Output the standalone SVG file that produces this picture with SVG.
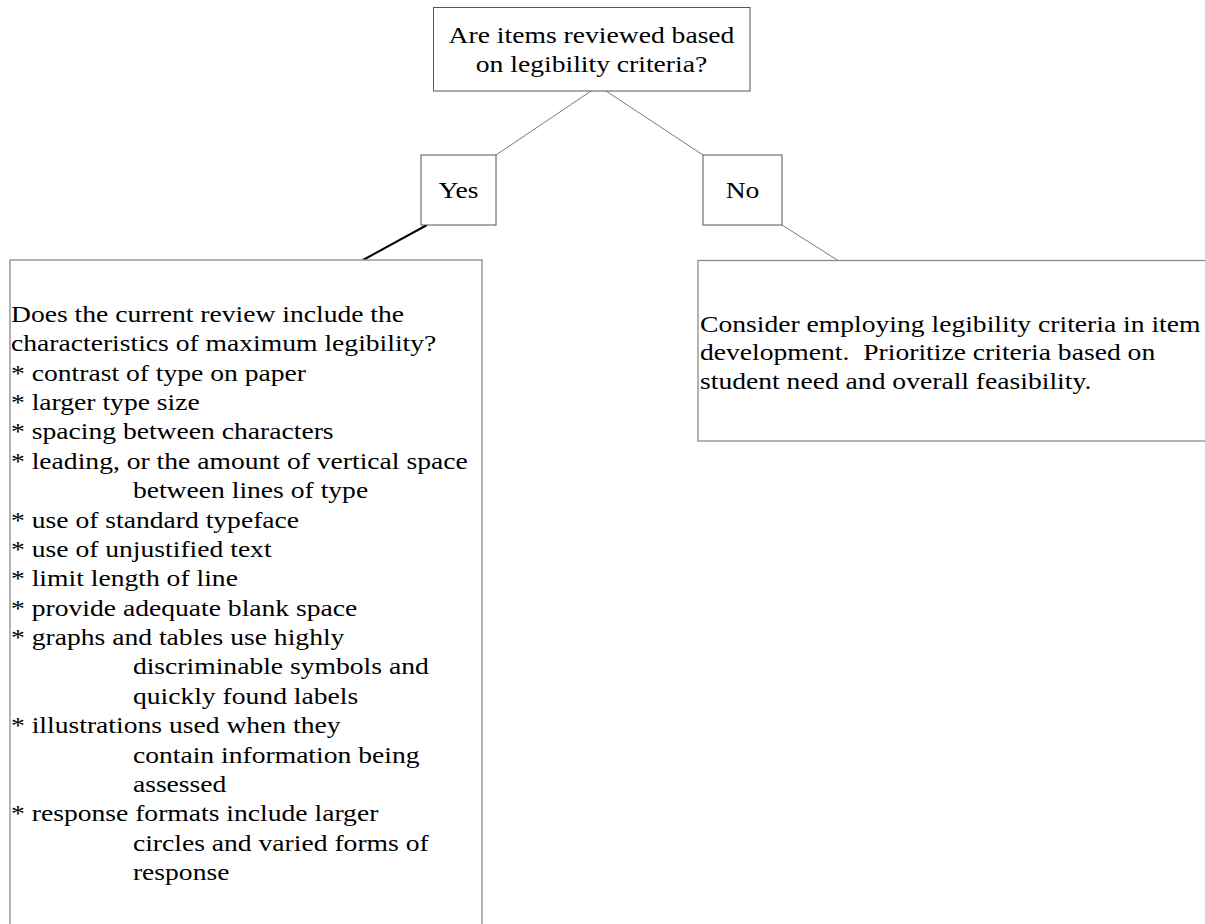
<svg xmlns="http://www.w3.org/2000/svg" width="1205" height="924" viewBox="0 0 1205 924">
<style>
  .box { fill: #ffffff; stroke: #555555; stroke-width: 1; }
  .bigbox { fill: #ffffff; stroke: #8a8a8a; stroke-width: 1.3; }
  .conn { fill: none; stroke: #555555; stroke-width: 0.8; }
  .connb { fill: none; stroke: #000000; stroke-width: 2; }
  .t { font-size: 24px; fill: #000000; }
  .c { text-anchor: middle; }
</style>
<rect x="0" y="0" width="1205" height="924" fill="#ffffff"/>

<g id="connectors">
  <path class="conn" d="M598.5,86 L496,155"/>
  <path class="conn" d="M598.5,86 L703,155"/>
  <path class="connb" d="M427,225 L363,260"/>
  <path class="conn" d="M782,225 L838,260.5"/>
</g>

<g id="question">
  <rect class="box" x="433.5" y="7.5" width="316.5" height="83.5"/>
  <g class="t" font-family="'Liberation Serif', Tinos, 'Times New Roman', Times, serif" transform="translate(591.5,0) scale(1.15,1)">
    <text class="c" x="0" y="43">Are items reviewed based</text>
    <text class="c" x="0" y="72">on legibility criteria?</text>
  </g>
</g>

<g id="yes">
  <rect class="box" x="421" y="155" width="75" height="70"/>
  <g class="t" font-family="'Liberation Serif', Tinos, 'Times New Roman', Times, serif" transform="translate(458.5,0) scale(1.15,1)">
    <text class="c" x="0" y="198">Yes</text>
  </g>
</g>

<g id="no">
  <rect class="box" x="703" y="155" width="79" height="70"/>
  <g class="t" font-family="'Liberation Serif', Tinos, 'Times New Roman', Times, serif" transform="translate(742.5,0) scale(1.15,1)">
    <text class="c" x="0" y="198">No</text>
  </g>
</g>

<g id="yes-detail">
  <rect class="bigbox" x="10" y="260" width="472" height="700"/>
  <g class="t" font-family="'Liberation Serif', Tinos, 'Times New Roman', Times, serif" transform="translate(11,0) scale(1.15,1)">
    <text x="0" y="322">Does the current review include the</text>
    <text x="0" y="351.4">characteristics of maximum legibility?</text>
    <text x="0" y="380.7">* contrast of type on paper</text>
    <text x="0" y="410.1">* larger type size</text>
    <text x="0" y="439.5">* spacing between characters</text>
    <text x="0" y="468.9">* leading, or the amount of vertical space</text>
    <text x="106" y="498.2">between lines of type</text>
    <text x="0" y="527.6">* use of standard typeface</text>
    <text x="0" y="557">* use of unjustified text</text>
    <text x="0" y="586.3">* limit length of line</text>
    <text x="0" y="615.7">* provide adequate blank space</text>
    <text x="0" y="645.1">* graphs and tables use highly</text>
    <text x="106" y="674.4">discriminable symbols and</text>
    <text x="106" y="703.8">quickly found labels</text>
    <text x="0" y="733.2">* illustrations used when they</text>
    <text x="106" y="762.6">contain information being</text>
    <text x="106" y="791.9">assessed</text>
    <text x="0" y="821.3">* response formats include larger</text>
    <text x="106" y="850.7">circles and varied forms of</text>
    <text x="106" y="880">response</text>
  </g>
</g>

<g id="no-detail">
  <rect class="bigbox" x="698" y="260.5" width="600" height="180.5"/>
  <g class="t" font-family="'Liberation Serif', Tinos, 'Times New Roman', Times, serif" transform="translate(700,0) scale(1.15,1)">
    <text x="0" y="332">Consider employing legibility criteria in item</text>
    <text x="0" y="360.5" xml:space="preserve">development.  Prioritize criteria based on</text>
    <text x="0" y="389">student need and overall feasibility.</text>
  </g>
</g>
</svg>
